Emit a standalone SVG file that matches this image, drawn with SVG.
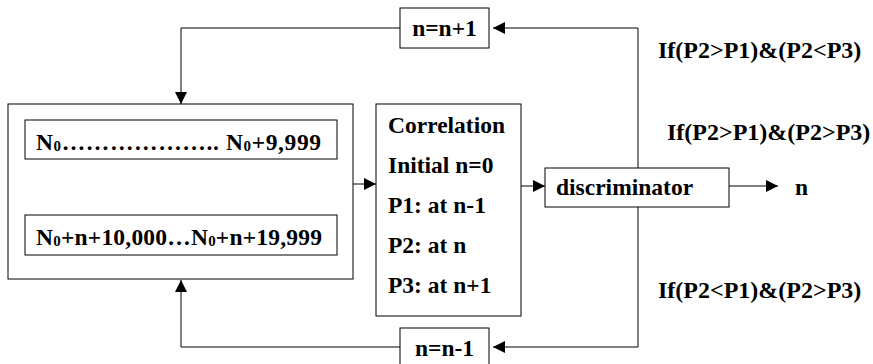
<svg xmlns="http://www.w3.org/2000/svg" width="873" height="364" viewBox="0 0 873 364">
<style>
  .box{fill:#fff;stroke:#000;stroke-width:1}
  .t{font-family:'Liberation Serif','Times New Roman',serif;font-weight:700;font-size:23.5px;fill:#000}
  .cond{font-size:24px}
  .sub{font-size:15px}
  .c{text-anchor:middle}
  .ln{fill:none;stroke:#000;stroke-width:1}
</style>
<defs>
  <marker id="ah" markerUnits="userSpaceOnUse" markerWidth="12" markerHeight="12" viewBox="0 0 10 10" refX="10" refY="5" orient="auto">
    <path d="M0,0 L10,5 L0,10 z" fill="#000"/>
  </marker>
</defs>
<rect width="873" height="364" fill="#fff"/>
<g id="connectors">
  <polyline class="ln" points="638,168 638,28 493,28" marker-end="url(#ah)"/>
  <polyline class="ln" points="400,28 181,28 181,104" marker-end="url(#ah)"/>
  <polyline class="ln" points="638,207 638,347 493,347" marker-end="url(#ah)"/>
  <polyline class="ln" points="400,347 181,347 181,280" marker-end="url(#ah)"/>
  <line class="ln" x1="353" y1="184" x2="376" y2="184" marker-end="url(#ah)"/>
  <line class="ln" x1="521" y1="186" x2="545" y2="186" marker-end="url(#ah)"/>
  <line class="ln" x1="729" y1="186" x2="778" y2="186" marker-end="url(#ah)"/>
</g>
<g id="buffer">
  <rect class="box" x="8" y="104" width="345" height="175"/>
  <rect class="box" x="25" y="120" width="312" height="39"/>
  <text class="t" x="36" y="150" textLength="285" lengthAdjust="spacing">N<tspan class="sub" dy="1">0</tspan><tspan dy="-1">………………..  N</tspan><tspan class="sub" dy="1">0</tspan><tspan dy="-1">+9,999</tspan></text>
  <rect class="box" x="25" y="215" width="312" height="40"/>
  <text class="t" x="36" y="245" textLength="286" lengthAdjust="spacing">N<tspan class="sub" dy="1">0</tspan><tspan dy="-1">+n+10,000…N</tspan><tspan class="sub" dy="1">0</tspan><tspan dy="-1">+n+19,999</tspan></text>
</g>
<g id="correlation">
  <rect class="box" x="376" y="104" width="145" height="212"/>
  <text class="t" x="388" y="133">Correlation</text>
  <text class="t" x="388" y="173">Initial n=0</text>
  <text class="t" x="388" y="213">P1: at n-1</text>
  <text class="t" x="388" y="253">P2: at n</text>
  <text class="t" x="388" y="293">P3: at n+1</text>
</g>
<g id="discriminator">
  <rect class="box" x="545" y="168" width="184" height="39"/>
  <text class="t" x="556" y="195">discriminator</text>
</g>
<g id="output">
  <text class="t" x="795" y="195">n</text>
</g>
<g id="inc">
  <rect class="box" x="400" y="8" width="89" height="40"/>
  <text class="t c" x="444.5" y="36">n=n+1</text>
</g>
<g id="dec">
  <rect class="box" x="400" y="328" width="89" height="40"/>
  <text class="t c" x="444.5" y="356">n=n-1</text>
</g>
<g id="conditions">
  <text class="t cond" x="658" y="58">If(P2&gt;P1)&amp;(P2&lt;P3)</text>
  <text class="t cond" x="667" y="140">If(P2&gt;P1)&amp;(P2&gt;P3)</text>
  <text class="t cond" x="658" y="298">If(P2&lt;P1)&amp;(P2&gt;P3)</text>
</g>
</svg>
